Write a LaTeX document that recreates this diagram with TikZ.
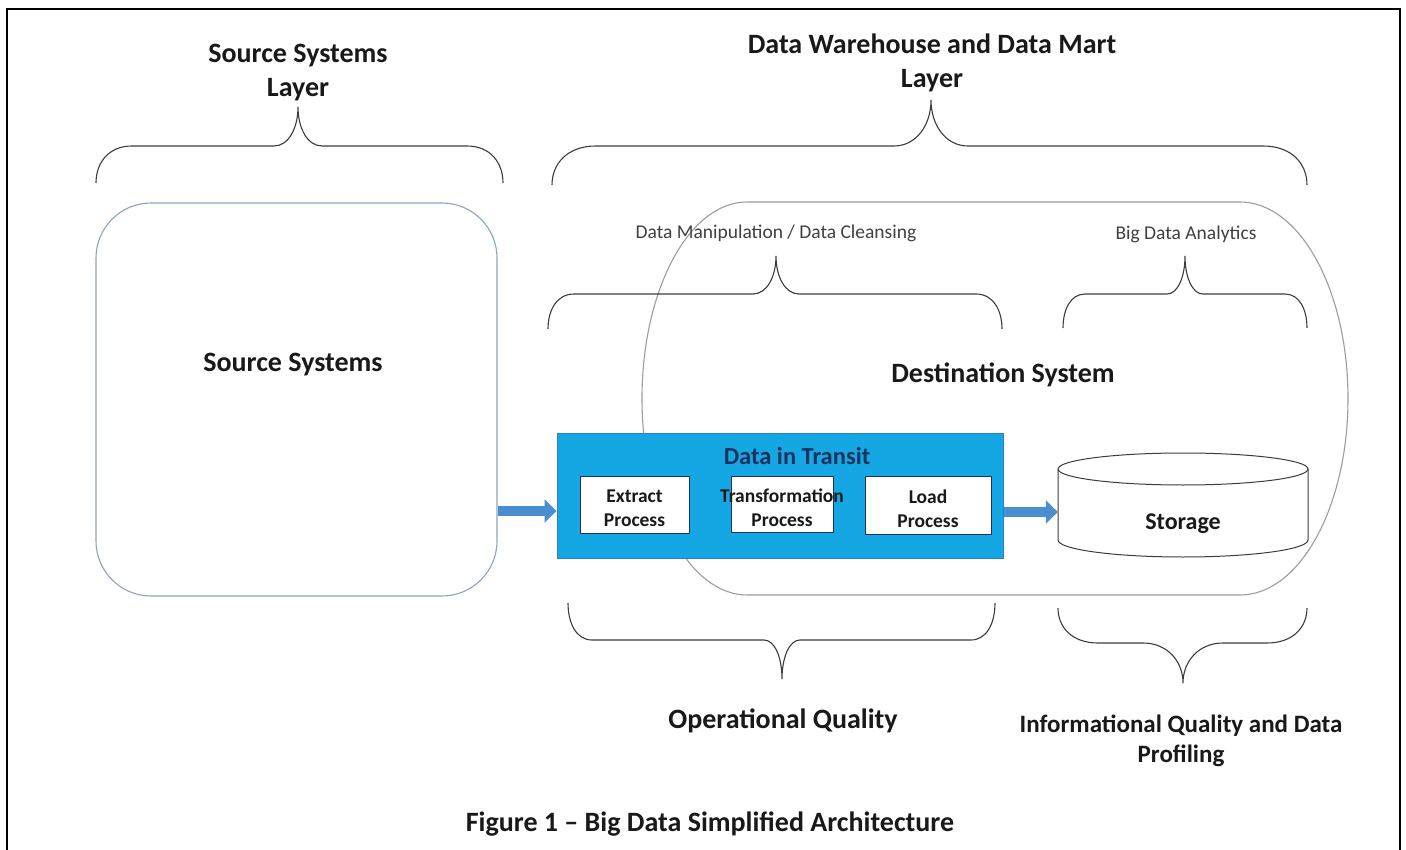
\documentclass[tikz,border=0pt]{standalone}
\usepackage{fontspec}
\setmainfont{Carlito}
\usetikzlibrary{arrows.meta}

\definecolor{transitblue}{RGB}{20,167,228}
\definecolor{transitedge}{RGB}{40,130,200}
\definecolor{flowblue}{RGB}{72,142,208}
\definecolor{navy}{RGB}{28,50,92}
\definecolor{outline}{RGB}{150,158,168}
\definecolor{srcoutline}{RGB}{140,165,190}
\definecolor{ink}{RGB}{25,25,25}
\definecolor{softink}{RGB}{64,64,64}
\definecolor{braceink}{RGB}{60,60,60}

% curly brace: x-left, x-right, x-tip, y-line, y-ends, y-tip, corner width, tip half-width
\newcommand\curlybrace[8]{%
  \draw[bracestyle] (#1,#5) .. controls (#1,{#4+0.45*(#5-#4)}) and ({#1+0.35*#7},#4) .. ({#1+#7},#4)
   -- ({#3-#8},#4) .. controls ({#3-0.4*#8},#4) and (#3,{#4+0.45*(#6-#4)}) .. (#3,#6)
   .. controls (#3,{#4+0.45*(#6-#4)}) and ({#3+0.4*#8},#4) .. ({#3+#8},#4)
   -- ({#2-#7},#4) .. controls ({#2-0.35*#7},#4) and (#2,{#4+0.45*(#5-#4)}) .. (#2,#5);}

\begin{document}
\begin{tikzpicture}[x=1pt,y=-1pt,
  bigbold/.style={font=\fontsize{28}{34}\selectfont\bfseries, text=ink, align=center, inner sep=0pt},
  midbold/.style={font=\fontsize{25}{30}\selectfont\bfseries, text=ink, align=center, inner sep=0pt},
  smalltext/.style={font=\fontsize{19.5}{24}\selectfont, text=softink, inner sep=0pt},
  navytitle/.style={font=\fontsize{24.5}{29}\selectfont\bfseries, text=navy, inner sep=0pt},
  procbox/.style={draw=navy, line width=1pt, fill=white, inner sep=0pt},
  proctext/.style={align=center, inner sep=0pt, yshift=-4pt,
    font=\fontsize{19.5}{24}\selectfont\bfseries, text=ink},
  transit/.style={draw=transitedge, fill=transitblue, line width=1pt,
    minimum width=446pt, minimum height=125pt, inner sep=0pt},
  srcbox/.style={draw=srcoutline, line width=1.1pt, rounded corners=55pt,
    minimum width=401pt, minimum height=393pt, inner sep=0pt},
  destline/.style={draw=outline, line width=1.1pt},
  bracestyle/.style={draw=braceink, line width=1.1pt},
  flow/.style={draw=flowblue, line width=10pt, -{Triangle[length=12pt,width=23pt]}},
  cyl/.style={draw=braceink, line width=1pt, fill=white}
]
\useasboundingbox (0,0) rectangle (1406,850);
\fill[white] (0,0) rectangle (1406,850);

% page frame (open at the bottom)
\draw[line width=2pt] (7,860) -- (7,9) -- (1400,9) -- (1400,860);

% destination system outline
\draw[destline] (747,202) -- (1240,202)
  arc[start angle=-90,end angle=90,x radius=108,y radius=196.5]
  -- (747,595)
  arc[start angle=90,end angle=270,x radius=105,y radius=196.5] -- cycle;

% source systems box
\node[srcbox] (src) at (296.5,399.5) {};
\node[bigbold] (srclabel) at (293,365) {Source Systems};
\node[bigbold] (destlabel) at (1003,374.5) {Destination System};

% layer headings and braces
\node[bigbold] (srclayer) at (298,73) {Source Systems\\Layer};
\node[bigbold] (dwlayer) at (932,63) {Data Warehouse and Data Mart\\Layer};
\curlybrace{96}{503}{298}{146}{183}{107}{36}{24}
\curlybrace{552}{1307}{931}{146}{185}{100}{44}{37}

\node[smalltext] (dmlabel) at (776,233) {Data Manipulation / Data Cleansing};
\node[smalltext] (bdalabel) at (1186,234) {Big Data Analytics};
\curlybrace{548}{1002}{776}{294}{329}{256}{26}{23}
\curlybrace{1063}{1307}{1185}{294}{328}{256}{22}{18}

% data in transit block
\node[transit] (transit) at (780,495.5) {};
\node[navytitle] (transitlabel) at (797,456) {Data in Transit};
\node[procbox, minimum width=109pt, minimum height=57pt,
  label={[proctext]center:{Extract\\Process}}] (extract) at (634.5,504.5) {};
\node[procbox, minimum width=102pt, minimum height=56pt,
  label={[proctext]center:{Transformation\\Process}}] (transform) at (782,504) {};
\node[procbox, minimum width=126pt, minimum height=58pt,
  label={[proctext]center:{Load\\Process}}] (load) at (928,505) {};

% storage cylinder
\filldraw[cyl] (1058,469) -- (1058,540)
  arc[start angle=180,end angle=0,x radius=125,y radius=17]
  -- (1308,469)
  arc[start angle=0,end angle=-180,x radius=125,y radius=16] -- cycle;
\draw[cyl, fill=none] (1058,469) arc[start angle=180,end angle=0,x radius=125,y radius=16];
\node[font=\fontsize{24}{29}\selectfont\bfseries, text=ink, minimum width=250pt, inner sep=0pt] (storage) at (1183,524) {Storage};

% flows
\coordinate (flowA) at (0,511);
\coordinate (flowB) at (0,512);
\draw[flow] (src.east |- flowA) -- (transit.west |- flowA);
\draw[flow] (transit.east |- flowB) -- (storage.west |- flowB);

% quality braces
\curlybrace{568}{995}{782}{640}{603}{679}{24}{18}
\curlybrace{1058}{1307}{1183}{643}{608}{683}{40}{40}
\node[bigbold] (oqlabel) at (783,720.5) {Operational Quality};
\node[midbold] (iqlabel) at (1181,740.5) {Informational Quality and Data\\Profiling};

% caption
\node[bigbold] (caption) at (710,824) {Figure 1 – Big Data Simplified Architecture};
\end{tikzpicture}
\end{document}
